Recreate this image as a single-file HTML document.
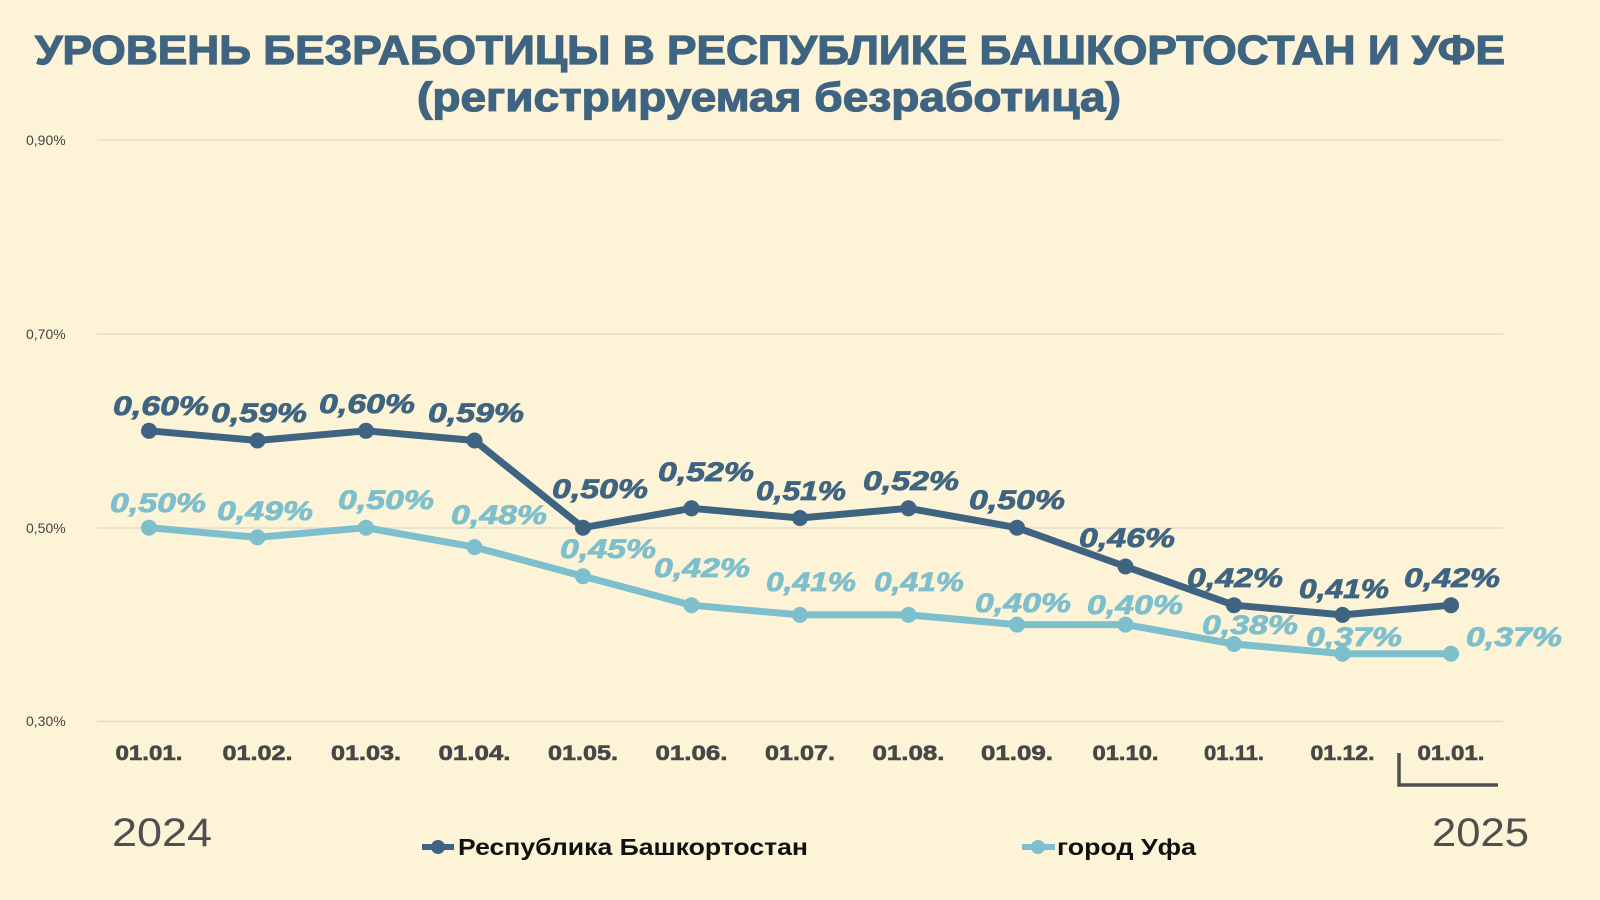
<!DOCTYPE html>
<html><head><meta charset="utf-8"><style>
html,body{margin:0;padding:0;background:#fdf3d6;}
svg{display:block;}
.t{font-family:"Liberation Sans","DejaVu Sans",sans-serif;font-weight:bold;fill:#3e6482;stroke:#3e6482;stroke-width:1.2;text-anchor:middle;}
.yl{font-family:"Liberation Sans",sans-serif;font-size:14px;fill:#444;}
.xl{font-family:"Liberation Sans",sans-serif;font-weight:bold;font-size:21px;fill:#474747;stroke:#474747;stroke-width:0.6;text-anchor:middle;}
.d{font-family:"Liberation Sans",sans-serif;font-weight:bold;font-style:italic;font-size:27px;fill:#3e6482;stroke:#3e6482;stroke-width:0.8;text-anchor:middle;}
.l{font-family:"Liberation Sans",sans-serif;font-weight:bold;font-style:italic;font-size:27px;fill:#7dbfcc;stroke:#7dbfcc;stroke-width:0.8;text-anchor:middle;}
.yr{font-family:"Liberation Sans",sans-serif;font-size:40px;fill:#4f4f4f;}
.lg{font-family:"Liberation Sans",sans-serif;font-weight:bold;font-size:23px;fill:#111;}
</style></head><body>
<svg width="1600" height="900" viewBox="0 0 1600 900">
<rect width="1600" height="900" fill="#fdf3d6"/>
<text class="t" x="770" y="64" font-size="41" textLength="1470" lengthAdjust="spacingAndGlyphs">УРОВЕНЬ БЕЗРАБОТИЦЫ В РЕСПУБЛИКЕ БАШКОРТОСТАН И УФЕ</text>
<text class="t" x="769" y="111" font-size="41" textLength="704" lengthAdjust="spacingAndGlyphs">(регистрируемая безработица)</text>
<g stroke="#e2dccb" stroke-width="1.5">
<line x1="97" y1="140" x2="1503" y2="140"/><line x1="97" y1="334" x2="1503" y2="334"/>
<line x1="97" y1="528" x2="1503" y2="528"/><line x1="97" y1="721.5" x2="1503" y2="721.5"/>
</g>
<text class="yl" x="26" y="145">0,90%</text><text class="yl" x="26" y="339">0,70%</text>
<text class="yl" x="26" y="533">0,50%</text><text class="yl" x="26" y="726">0,30%</text>
<g fill="none" stroke-width="7" stroke-linejoin="round">
<polyline stroke="#7dbfcc" points="149,527.7 257.5,537.4 366,527.7 474.5,547.1 583,576.2 691.5,605.2 800,614.9 908.5,614.9 1017,624.6 1125.5,624.6 1234,644 1342.5,653.7 1451,653.7"/>
<polyline stroke="#3e6482" points="149,430.8 257.5,440.5 366,430.8 474.5,440.5 583,527.7 691.5,508.3 800,518 908.5,508.3 1017,527.7 1125.5,566.5 1234,605.2 1342.5,614.9 1451,605.2"/>
</g>
<g fill="#7dbfcc">
<circle cx="149" cy="527.7" r="8"/><circle cx="257.5" cy="537.4" r="8"/><circle cx="366" cy="527.7" r="8"/><circle cx="474.5" cy="547.1" r="8"/><circle cx="583" cy="576.2" r="8"/><circle cx="691.5" cy="605.2" r="8"/><circle cx="800" cy="614.9" r="8"/><circle cx="908.5" cy="614.9" r="8"/><circle cx="1017" cy="624.6" r="8"/><circle cx="1125.5" cy="624.6" r="8"/><circle cx="1234" cy="644" r="8"/><circle cx="1342.5" cy="653.7" r="8"/><circle cx="1451" cy="653.7" r="8"/>
</g>
<g fill="#3e6482">
<circle cx="149" cy="430.8" r="8"/><circle cx="257.5" cy="440.5" r="8"/><circle cx="366" cy="430.8" r="8"/><circle cx="474.5" cy="440.5" r="8"/><circle cx="583" cy="527.7" r="8"/><circle cx="691.5" cy="508.3" r="8"/><circle cx="800" cy="518" r="8"/><circle cx="908.5" cy="508.3" r="8"/><circle cx="1017" cy="527.7" r="8"/><circle cx="1125.5" cy="566.5" r="8"/><circle cx="1234" cy="605.2" r="8"/><circle cx="1342.5" cy="614.9" r="8"/><circle cx="1451" cy="605.2" r="8"/>
</g>
<g textLength="96">
<text class="d" x="161" y="415" textLength="96" lengthAdjust="spacingAndGlyphs">0,60%</text><text class="d" x="259" y="422" textLength="96" lengthAdjust="spacingAndGlyphs">0,59%</text><text class="d" x="367" y="413" textLength="96" lengthAdjust="spacingAndGlyphs">0,60%</text><text class="d" x="476" y="422" textLength="96" lengthAdjust="spacingAndGlyphs">0,59%</text><text class="d" x="600" y="498" textLength="96" lengthAdjust="spacingAndGlyphs">0,50%</text><text class="d" x="706" y="481" textLength="96" lengthAdjust="spacingAndGlyphs">0,52%</text><text class="d" x="801" y="500" textLength="90" lengthAdjust="spacingAndGlyphs">0,51%</text><text class="d" x="911" y="490" textLength="96" lengthAdjust="spacingAndGlyphs">0,52%</text><text class="d" x="1017" y="509" textLength="96" lengthAdjust="spacingAndGlyphs">0,50%</text><text class="d" x="1127" y="547" textLength="96" lengthAdjust="spacingAndGlyphs">0,46%</text><text class="d" x="1235" y="587" textLength="96" lengthAdjust="spacingAndGlyphs">0,42%</text><text class="d" x="1344" y="598" textLength="90" lengthAdjust="spacingAndGlyphs">0,41%</text><text class="d" x="1452" y="587" textLength="96" lengthAdjust="spacingAndGlyphs">0,42%</text>
<text class="l" x="158" y="512" textLength="96" lengthAdjust="spacingAndGlyphs">0,50%</text><text class="l" x="265" y="520" textLength="96" lengthAdjust="spacingAndGlyphs">0,49%</text><text class="l" x="386" y="509" textLength="96" lengthAdjust="spacingAndGlyphs">0,50%</text><text class="l" x="499" y="524" textLength="96" lengthAdjust="spacingAndGlyphs">0,48%</text><text class="l" x="608" y="558" textLength="96" lengthAdjust="spacingAndGlyphs">0,45%</text><text class="l" x="702" y="577" textLength="96" lengthAdjust="spacingAndGlyphs">0,42%</text><text class="l" x="811" y="591" textLength="90" lengthAdjust="spacingAndGlyphs">0,41%</text><text class="l" x="919" y="591" textLength="90" lengthAdjust="spacingAndGlyphs">0,41%</text><text class="l" x="1023" y="612" textLength="96" lengthAdjust="spacingAndGlyphs">0,40%</text><text class="l" x="1135" y="614" textLength="96" lengthAdjust="spacingAndGlyphs">0,40%</text><text class="l" x="1250" y="634" textLength="96" lengthAdjust="spacingAndGlyphs">0,38%</text><text class="l" x="1354" y="646" textLength="96" lengthAdjust="spacingAndGlyphs">0,37%</text><text class="l" x="1514" y="646" textLength="96" lengthAdjust="spacingAndGlyphs">0,37%</text>
</g>
<text class="xl" x="149" y="760" textLength="67" lengthAdjust="spacingAndGlyphs">01.01.</text><text class="xl" x="257.5" y="760" textLength="70" lengthAdjust="spacingAndGlyphs">01.02.</text><text class="xl" x="366" y="760" textLength="70" lengthAdjust="spacingAndGlyphs">01.03.</text><text class="xl" x="474.5" y="760" textLength="72" lengthAdjust="spacingAndGlyphs">01.04.</text><text class="xl" x="583" y="760" textLength="70" lengthAdjust="spacingAndGlyphs">01.05.</text><text class="xl" x="691.5" y="760" textLength="72" lengthAdjust="spacingAndGlyphs">01.06.</text><text class="xl" x="800" y="760" textLength="70" lengthAdjust="spacingAndGlyphs">01.07.</text><text class="xl" x="908.5" y="760" textLength="72" lengthAdjust="spacingAndGlyphs">01.08.</text><text class="xl" x="1017" y="760" textLength="72" lengthAdjust="spacingAndGlyphs">01.09.</text><text class="xl" x="1125.5" y="760" textLength="66" lengthAdjust="spacingAndGlyphs">01.10.</text><text class="xl" x="1234" y="760" textLength="60" lengthAdjust="spacingAndGlyphs">01.11.</text><text class="xl" x="1342.5" y="760" textLength="64" lengthAdjust="spacingAndGlyphs">01.12.</text><text class="xl" x="1451" y="760" textLength="67" lengthAdjust="spacingAndGlyphs">01.01.</text>
<polyline fill="none" stroke="#4f4f4f" stroke-width="3.5" points="1399,753 1399,785 1498,785"/>
<text class="yr" x="112" y="846" textLength="100" lengthAdjust="spacingAndGlyphs">2024</text>
<text class="yr" x="1432" y="846" textLength="97" lengthAdjust="spacingAndGlyphs">2025</text>
<line x1="422" y1="847" x2="454" y2="847" stroke="#3e6482" stroke-width="6"/><circle cx="438" cy="847" r="7" fill="#3e6482"/>
<text class="lg" x="458" y="855" textLength="350" lengthAdjust="spacingAndGlyphs">Республика Башкортостан</text>
<line x1="1022" y1="847" x2="1055" y2="847" stroke="#7dbfcc" stroke-width="6"/><circle cx="1038" cy="847" r="7" fill="#7dbfcc"/>
<text class="lg" x="1057" y="855" textLength="139" lengthAdjust="spacingAndGlyphs">город Уфа</text>
</svg>
</body></html>
